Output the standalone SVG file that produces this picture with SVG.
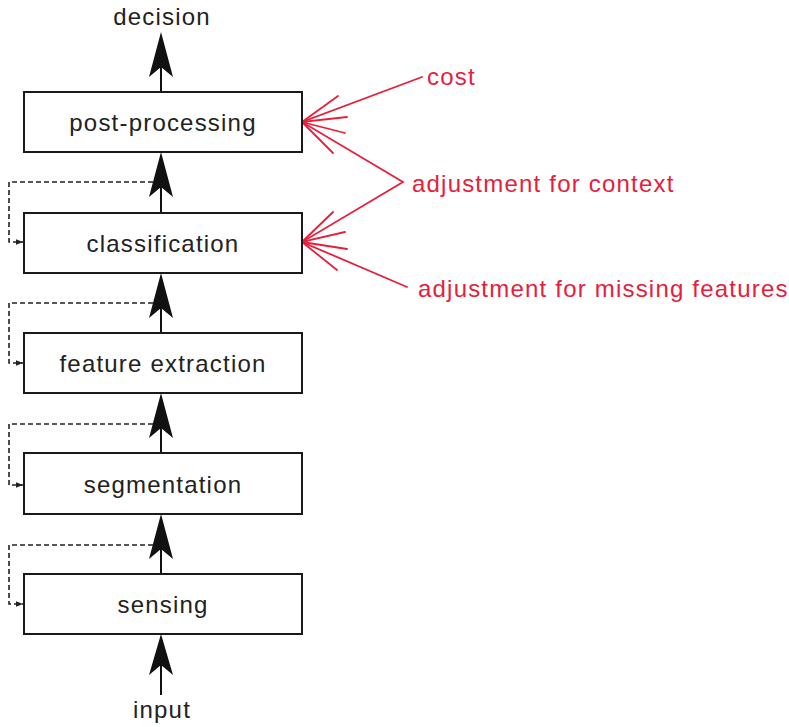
<svg xmlns="http://www.w3.org/2000/svg" width="789" height="727" viewBox="0 0 789 727">
<defs>
<style>
.box{fill:#fff;stroke:#1a1a1a;stroke-width:2}
.lbl{font-family:"Liberation Sans",Arial,sans-serif;font-size:24px;letter-spacing:1.2px;fill:#222;text-anchor:middle}
.red{font-family:"Liberation Sans",Arial,sans-serif;font-size:24px;letter-spacing:1.2px;fill:#e5203c}
.shaft{stroke:#111;stroke-width:2;fill:none}
.head{fill:#111;stroke:none}
.dash{stroke:#222;stroke-width:1.6;fill:none;stroke-dasharray:5 3}
.rl{stroke:#e5203c;stroke-width:1.8;fill:none;stroke-linecap:round}
</style>
<marker id="sm" viewBox="0 0 10 10" refX="10" refY="5" markerWidth="7" markerHeight="7" markerUnits="userSpaceOnUse" orient="auto">
<path d="M0,1 L10,5 L0,9 Z" fill="#222"/>
</marker>
</defs>
<rect width="789" height="727" fill="#fff"/>

<g id="connectors">
  <!-- main upward arrows -->
  <line class="shaft" x1="161" y1="92" x2="161" y2="66"/>
  <path class="head" d="M161,32 L173,77 L161,67 L149,77 Z"/>
  <line class="shaft" x1="161" y1="213" x2="161" y2="186"/>
  <path class="head" d="M161,152 L173,197 L161,187 L149,197 Z"/>
  <line class="shaft" x1="161" y1="333" x2="161" y2="306"/>
  <path class="head" d="M161,273 L173,318 L161,308 L149,318 Z"/>
  <line class="shaft" x1="161" y1="453" x2="161" y2="427"/>
  <path class="head" d="M161,393 L173,438 L161,428 L149,438 Z"/>
  <line class="shaft" x1="161" y1="574" x2="161" y2="547"/>
  <path class="head" d="M161,514 L173,559 L161,549 L149,559 Z"/>
  <line class="shaft" x1="161" y1="695" x2="161" y2="664"/>
  <path class="head" d="M161,634 L173,675 L161,665 L149,675 Z"/>
  <!-- dashed feedback -->
  <path class="dash" d="M153,182 H9 V242 H23" marker-end="url(#sm)"/>
  <path class="dash" d="M153,303 H9 V363 H23" marker-end="url(#sm)"/>
  <path class="dash" d="M153,424 H9 V485 H23" marker-end="url(#sm)"/>
  <path class="dash" d="M153,545 H9 V604 H23" marker-end="url(#sm)"/>
  <!-- red fans -->
  <path class="rl" d="M422,77 L302,122 L403,182 L302,242 L407,287"/>
  <path class="rl" d="M338,96 L302,122 L347,117 M302,122 L345,133 M302,122 L333,153"/>
  <path class="rl" d="M333,212 L302,242 L345,232 M302,242 L347,249 M302,242 L337,270"/>
</g>

<g id="post-processing"><rect class="box" x="24" y="92" width="278" height="60"/><text class="lbl" x="163" y="131">post-processing</text></g>
<g id="classification"><rect class="box" x="24" y="213" width="278" height="60"/><text class="lbl" x="163" y="252">classification</text></g>
<g id="feature-extraction"><rect class="box" x="24" y="333" width="278" height="60"/><text class="lbl" x="163" y="372">feature extraction</text></g>
<g id="segmentation"><rect class="box" x="24" y="453" width="278" height="61"/><text class="lbl" x="163" y="493">segmentation</text></g>
<g id="sensing"><rect class="box" x="24" y="574" width="278" height="60"/><text class="lbl" x="163" y="613">sensing</text></g>

<g id="decision"><text class="lbl" x="162" y="25">decision</text></g>
<g id="input"><text class="lbl" x="162" y="718">input</text></g>
<g id="cost"><text class="red" x="427" y="85">cost</text></g>
<g id="adjustment-context"><text class="red" x="412" y="192">adjustment for context</text></g>
<g id="adjustment-missing"><text class="red" x="418" y="297">adjustment for missing features</text></g>
</svg>
